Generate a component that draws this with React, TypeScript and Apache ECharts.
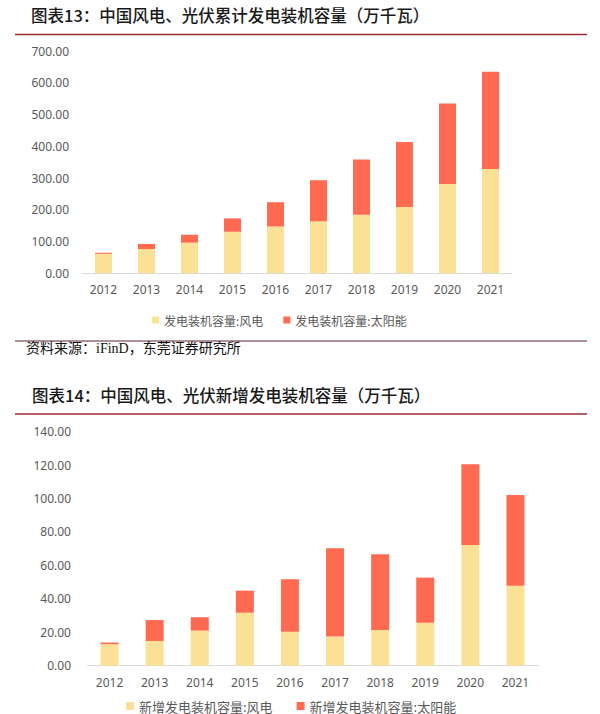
import React, { useEffect, useRef } from "react";
import * as echarts from "echarts";

const years = ["2012", "2013", "2014", "2015", "2016", "2017", "2018", "2019", "2020", "2021"];
const cumWind = [61.42, 76.52, 96.57, 130.75, 147.47, 163.67, 184.27, 209.15, 281.53, 328.48];
const cumSolar = [3.41, 15.89, 24.86, 42.18, 76.31, 129.42, 174.33, 204.18, 253.43, 306.56];
const newWind = [12.85, 14.8, 21.0, 31.7, 20.3, 17.4, 21.4, 25.7, 72.2, 47.9];
const newSolar = [1.0, 12.5, 8.0, 13.2, 31.4, 52.8, 45.3, 27.0, 48.3, 54.2];

const title1 = "图表13：中国风电、光伏累计发电装机容量（万千瓦）";
const title2 = "图表14：中国风电、光伏新增发电装机容量（万千瓦）";
const source = "资料来源：iFinD，东莞证券研究所";
const names1 = ["发电装机容量:风电", "发电装机容量:太阳能"];
const names2 = ["新增发电装机容量:风电", "新增发电装机容量:太阳能"];

const YELLOW = "#FBE195";
const RED = "#FF6A50";
const FONT = "'Noto Sans', 'Noto Sans CJK SC', sans-serif";
const CJK = "'Noto Sans CJK SC', sans-serif";

export default function App() {
  const ref = useRef<HTMLDivElement>(null);
  useEffect(() => {
    if (!ref.current) return;
    const chart = echarts.init(ref.current, undefined, { renderer: "svg" });
    const yLabel = (m: number) => ({
      color: "#595959",
      fontSize: 12,
      fontFamily: FONT,
      margin: m,
      formatter: (v: number) => v.toFixed(2),
    });
    const xAxisCommon = (idx: number, m: number) => ({
      type: "category" as const,
      gridIndex: idx,
      data: years,
      axisLine: { lineStyle: { color: "#D9D9D9", width: 1 } },
      axisTick: { show: false },
      axisLabel: { color: "#595959", fontSize: 12, fontFamily: FONT, margin: m },
    });
    chart.setOption({
      animation: false,
      backgroundColor: "#ffffff",
      grid: [
        { left: 82, top: 51, width: 430, height: 222.3 },
        { left: 87, top: 431.7, width: 451, height: 234 },
      ],
      xAxis: [xAxisCommon(0, 10), xAxisCommon(1, 11)],
      yAxis: [
        {
          type: "value",
          gridIndex: 0,
          min: 0,
          max: 700,
          interval: 100,
          splitLine: { show: false },
          axisLine: { show: false },
          axisTick: { show: false },
          axisLabel: yLabel(13),
        },
        {
          type: "value",
          gridIndex: 1,
          min: 0,
          max: 140,
          interval: 20,
          splitLine: { show: false },
          axisLine: { show: false },
          axisTick: { show: false },
          axisLabel: yLabel(16),
        },
      ],
      legend: [
        {
          data: names1,
          left: 147,
          top: 309,
          itemWidth: 7,
          itemHeight: 7,
          itemGap: 20,
          icon: "rect",
          textStyle: { color: "#595959", fontSize: 12, fontFamily: CJK },
        },
        {
          data: names2,
          left: 126,
          top: 699,
          padding: 0,
          itemWidth: 8,
          itemHeight: 8,
          itemGap: 24,
          icon: "rect",
          textStyle: { color: "#595959", fontSize: 13, lineHeight: 14, fontFamily: CJK },
        },
      ],
      series: [
        { name: names1[0], type: "bar", stack: "a", xAxisIndex: 0, yAxisIndex: 0, data: cumWind, barWidth: 17, itemStyle: { color: YELLOW } },
        { name: names1[1], type: "bar", stack: "a", xAxisIndex: 0, yAxisIndex: 0, data: cumSolar, barWidth: 17, itemStyle: { color: RED } },
        { name: names2[0], type: "bar", stack: "b", xAxisIndex: 1, yAxisIndex: 1, data: newWind, barWidth: 18, itemStyle: { color: YELLOW } },
        { name: names2[1], type: "bar", stack: "b", xAxisIndex: 1, yAxisIndex: 1, data: newSolar, barWidth: 18, itemStyle: { color: RED } },
      ],
      graphic: [
        {
          type: "text",
          left: 31,
          top: 7,
          style: { text: title1, fontSize: 16.5, fontWeight: 500, fill: "#1a1a1a", fontFamily: CJK },
        },
        {
          type: "line",
          shape: { x1: 15, y1: 34.5, x2: 587, y2: 34.5 },
          style: { stroke: "#9C2B33", lineWidth: 1.5 },
        },
        {
          type: "line",
          shape: { x1: 15, y1: 341, x2: 587, y2: 341 },
          style: { stroke: "#5A2630", lineWidth: 1.2 },
        },
        {
          type: "text",
          left: 26,
          top: 341.5,
          style: { text: source, fontSize: 14, fill: "#111", fontFamily: "'Liberation Serif', 'Noto Sans CJK SC', serif" },
        },
        {
          type: "text",
          left: 32,
          top: 387,
          style: { text: title2, fontSize: 16.5, fontWeight: 500, fill: "#1a1a1a", fontFamily: CJK },
        },
        {
          type: "line",
          shape: { x1: 15, y1: 414, x2: 587, y2: 414 },
          style: { stroke: "#9C2B33", lineWidth: 1.5 },
        },
      ],
    });
    return () => chart.dispose();
  }, []);
  return (
    <div
      ref={ref}
      style={{ position: "fixed", left: 0, top: 0, width: 600, height: 714, background: "#fff" }}
    />
  );
}
